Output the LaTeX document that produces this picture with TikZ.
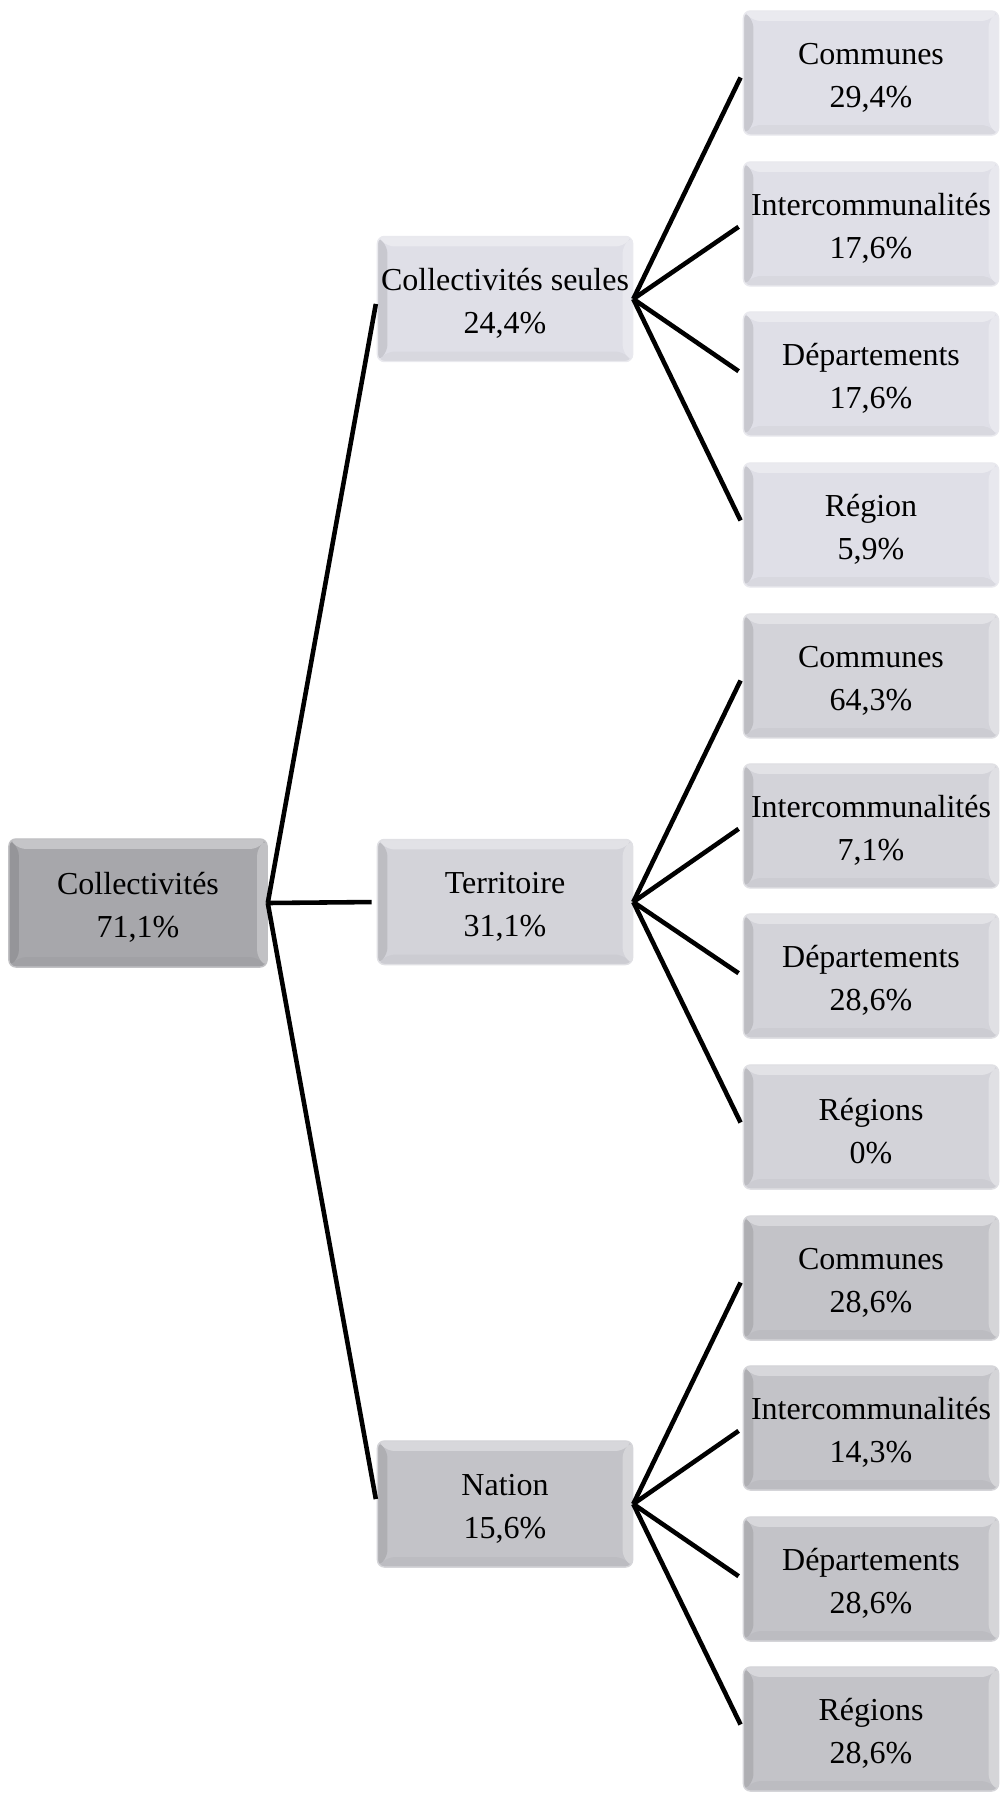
\documentclass[tikz,border=0pt]{standalone}
\usepackage{fontspec}
\setmainfont{Liberation Serif}
\usepackage{tikz}
\usetikzlibrary{positioning,calc}
\definecolor{boxlight}{HTML}{DFDFE7}
\definecolor{boxmid}{HTML}{D3D3D9}
\definecolor{boxdark}{HTML}{C3C3C8}
\definecolor{boxroot}{HTML}{A7A7AB}

\tikzset{
  bevel/.style={
    rounded corners=0.07cm, draw=#1!70!white, line width=0.4pt, fill=#1,
    minimum width=2.55cm, minimum height=1.24cm, align=center, inner sep=0pt,
    font=\fontsize{9.1}{12.2}\selectfont, text height=21pt,
    path picture={
      \fill[white, opacity=0.35] (path picture bounding box.north west) -- ++(0.1cm,-0.1cm)
        -- ($(path picture bounding box.north east)+(-0.1cm,-0.1cm)$) -- (path picture bounding box.north east) -- cycle;
      \fill[black, opacity=0.1] (path picture bounding box.north west) -- ++(0.1cm,-0.1cm)
        -- ($(path picture bounding box.south west)+(0.1cm,0.1cm)$) -- (path picture bounding box.south west) -- cycle;
      \fill[black, opacity=0.03] (path picture bounding box.south west) -- ++(0.1cm,0.1cm)
        -- ($(path picture bounding box.south east)+(-0.1cm,0.1cm)$) -- (path picture bounding box.south east) -- cycle;
      \fill[white, opacity=0.3] (path picture bounding box.south east) -- ++(-0.1cm,0.1cm)
        -- ($(path picture bounding box.north east)+(-0.1cm,-0.1cm)$) -- (path picture bounding box.north east) -- cycle;
    }},
  branch/.style={line width=1.3pt, black, shorten >=0.05cm}
}

\begin{document}
\begin{tikzpicture}[x=0.01cm, y=-0.01cm]
  \useasboundingbox (0,0) rectangle (1000,1794);
  % root and middle level
  \node[bevel=boxroot, minimum width=2.58cm, minimum height=1.28cm] (coll) at (138,903) {Collectivités\\71,1\%};
  \node[bevel=boxlight, minimum height=1.25cm] (seul) at (505,299) {Collectivités seules\\24,4\%};
  \node[bevel=boxmid, minimum height=1.25cm] (terr) at (505,902) {Territoire\\31,1\%};
  \node[bevel=boxdark, minimum height=1.26cm] (nat) at (505,1504) {Nation\\15,6\%};
  \foreach \g in {seul,terr,nat}
    \draw[branch] (coll.east) -- (\g.west);

  % leaves
  \foreach \n/\y/\c/\t/\p in {
      seul1/73/boxlight/Communes/{29,4},
      seul2/224/boxlight/Intercommunalités/{17,6},
      seul3/374/boxlight/Départements/{17,6},
      seul4/525/boxlight/Région/{5,9},
      terr1/676/boxmid/Communes/{64,3},
      terr2/826/boxmid/Intercommunalités/{7,1},
      terr3/976/boxmid/Départements/{28,6},
      terr4/1127/boxmid/Régions/0,
      nat1/1278/boxdark/Communes/{28,6},
      nat2/1428/boxdark/Intercommunalités/{14,3},
      nat3/1579/boxdark/Départements/{28,6},
      nat4/1729/boxdark/Régions/{28,6}}{
    \node[bevel=\c] (\n) at (871,\y) {\t\\\p\%};
  }
  \foreach \g in {seul,terr,nat}
    \foreach \k in {1,...,4}
      \draw[branch] (\g.east) -- (\g\k.west);
\end{tikzpicture}
\end{document}
